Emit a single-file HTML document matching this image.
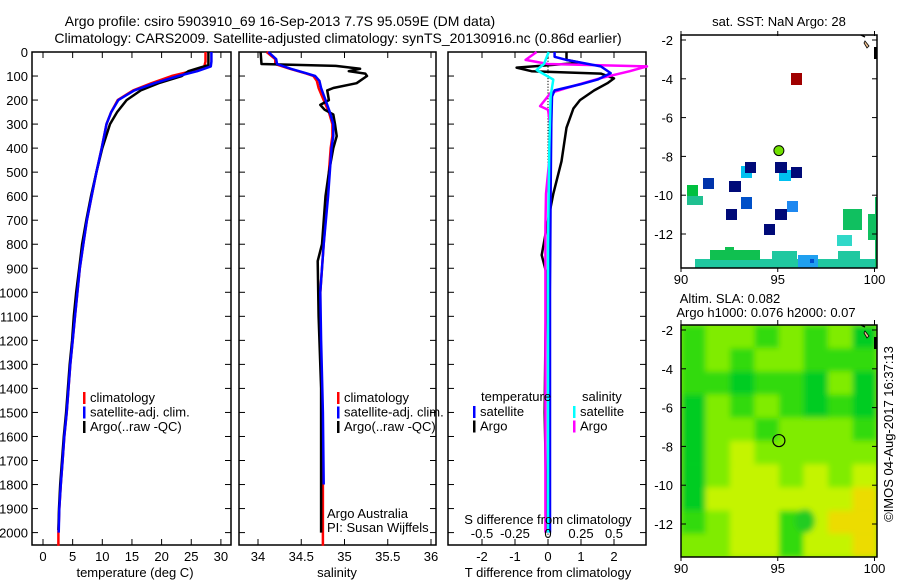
<!DOCTYPE html>
<html><head><meta charset="utf-8">
<style>
html,body{margin:0;padding:0;background:#fff;}
svg{display:block;font-family:"Liberation Sans",sans-serif;}
text{fill:#000;}
</style></head>
<body>
<svg id="fig" width="900" height="580" viewBox="0 0 900 580" xmlns="http://www.w3.org/2000/svg">
<text x="280" y="26" font-size="14" text-anchor="middle">Argo profile: csiro 5903910_69 16-Sep-2013 7.7S 95.059E (DM data)</text>
<text x="338" y="43" font-size="14" text-anchor="middle">Climatology: CARS2009. Satellite-adjusted climatology: synTS_20130916.nc (0.86d earlier)</text>
<g id="p1"></g>
<g id="p2"></g>
<g id="p3"></g>
<g id="m1"></g>
<g id="m2"></g>
<text transform="translate(893,434) rotate(-90)" font-size="13" text-anchor="middle">©IMOS 04-Aug-2017 16:37:13</text>
</svg>
<script>
const NS="http://www.w3.org/2000/svg";
// ---- data ----
const tDepthClim=[0,40,60,80,100,130,160,200,250,300,400,500,600,700,800,900,1000,1100,1200,1300,1400,1500,1600,1700,1800,1900,2000,2055];
const tClim=[27.4,27.4,27.2,25,21.7,18.3,15.2,12.6,11.5,10.7,9.9,9.0,8.2,7.4,6.8,6.2,5.8,5.4,5.0,4.6,4.3,4.0,3.6,3.3,3.0,2.75,2.6,2.6];
const tSat=[28.4,28.4,28.3,26,22.8,18.8,15.4,12.7,11.5,10.7,9.9,9.0,8.2,7.4,6.8,6.2,5.8,5.4,5.0,4.6,4.3,4.0,3.6,3.3,3.0,2.75,2.65,2.65];
const tDepthArgo=[0,55,65,80,100,130,160,200,250,300,400,500,600,700,800,900,1000,1100,1200,1300,1400,1500,1600,1700,1800,1900,1990];
const tArgo=[27.9,27.9,26.5,24.5,23.4,19.5,16.5,14.1,12.5,11.3,10.0,9.0,8.1,7.3,6.6,6.1,5.6,5.2,4.9,4.5,4.2,3.9,3.5,3.2,2.9,2.7,2.6];
const sDepthClim=[0,30,50,70,90,100,120,150,200,250,300,350,400,500,600,800,1000,1200,1500,1800,2055];
const sClim=[34.10,34.2,34.2,34.37,34.56,34.64,34.68,34.70,34.76,34.82,34.86,34.86,34.84,34.82,34.80,34.76,34.72,34.72,34.74,34.75,34.75];
const sSat=[34.12,34.21,34.22,34.38,34.57,34.66,34.71,34.73,34.78,34.83,34.87,34.87,34.85,34.83,34.81,34.76,34.72,34.73,34.75,34.76,34.76];
const sDepthArgo=[0,50,58,65,70,80,90,100,130,150,160,200,220,240,260,300,350,400,500,600,800,870,1100,1400,1700,2000];
const sArgo=[34.03,34.04,34.9,35.07,35.18,35.05,35.24,35.26,35.14,34.87,34.80,34.82,34.72,34.77,34.87,34.89,34.91,34.87,34.82,34.78,34.74,34.69,34.70,34.73,34.73,34.73];
const dDepthT=[0,20,33,60,88,115,135,160,185,300,600,1000,1500,2000];
const dTsat=[0.2,0.2,0.56,1.6,1.9,1.5,0.97,0.2,0.12,0.1,0.08,0.06,0.06,0.06];
const dDepthTA=[0,33,45,65,80,90,110,130,160,200,235,315,455,590,730,845,925,1200,1500,1800,2000];
const dTargo=[0.56,0.56,1.0,-0.95,-0.5,1.6,2.0,1.8,1.4,0.97,0.77,0.56,0.41,0.16,-0.04,-0.19,-0.04,-0.08,-0.1,-0.06,-0.04];
const dDepthS=[0,33,50,60,80,110,150,170,225,240,315,450,590,730,1000,1500,2000];
const dSargo=[-0.086,-0.17,0.0,0.75,0.62,0.39,0.14,0.02,-0.06,0.0,0.02,0.01,-0.015,-0.02,-0.02,-0.02,-0.02];
const dDepthSS=[0,50,75,115,185,400,800,1200,2000];
const dSsat=[0.005,-0.03,-0.086,0.04,0.02,0.01,0.0,0.0,0.0];
const depthTicks=[0,100,200,300,400,500,600,700,800,900,1000,1100,1200,1300,1400,1500,1600,1700,1800,1900,2000];
const tTicks=[0,5,10,15,20,25,30];
const sTicks=[34,34.5,35,35.5,36];
const dTTicks=[-2,-1,0,1,2];
const dSTicks=[-0.5,-0.25,0,0.25,0.5];
const latTicks=[-2,-4,-6,-8,-10,-12];
const lonTicks=[90,95,100];
// ---- scales ----
const Y0=52,YB=545;
const yD=d=>Y0+d*0.2403;
const xT=t=>43+t*5.93;
const xS=s=>258+(s-34)*86.5;
const xTd=t=>548+t*33;
const xSd=s=>548+s*132;
const mx=lon=>681+(lon-90)*19.35;
const my1=lat=>40+(-2-lat)*19.4;
const my2=lat=>330+(-2-lat)*19.4;
function mk(tag,attrs,parent){const e=document.createElementNS(NS,tag);for(const k in attrs)e.setAttribute(k,attrs[k]);parent.appendChild(e);return e;}
function frame(g,x1,x2,y1,y2){const r=mk('rect',{x:x1,y:y1,width:x2-x1,height:y2-y1,fill:'none',stroke:'#000','stroke-width':1.5},g);}
function line(g,xs,ys,fx,color,name,w){const pts=xs.map((v,i)=>fx(v).toFixed(1)+','+yD(ys[i]).toFixed(1)).join(' ');const p=mk('polyline',{points:pts,fill:'none',stroke:color,'stroke-width':w||2.5,'stroke-linejoin':'round'},g);}
function txt(g,x,y,s,opts){const t=mk('text',Object.assign({x:x,y:y,'font-size':13},opts||{}),g);t.textContent=s;return t;}
function depthAxis(g,x1,x2,labels){depthTicks.forEach(d=>{mk('line',{x1:x1,x2:x1+6,y1:yD(d),y2:yD(d),stroke:'#000'},g);mk('line',{x1:x2-6,x2:x2,y1:yD(d),y2:yD(d),stroke:'#000'},g);if(labels){const t=txt(g,28,yD(d)+5,String(d),{'text-anchor':'end'});}});}
function xAxis(g,ticks,fx,ylab){ticks.forEach(v=>{const x=fx(v);mk('line',{x1:x,x2:x,y1:YB,y2:YB-6,stroke:'#000'},g);mk('line',{x1:x,x2:x,y1:Y0,y2:Y0+6,stroke:'#000'},g);if(ylab){const t=txt(g,x,ylab,String(v),{'text-anchor':'middle'});}});}
function legend(g,x,y,items){items.forEach((it,i)=>{mk('rect',{x:x,y:y+i*14.5-10,width:2.5,height:12,fill:it[1]},g);const t=txt(g,x+7,y+i*14.5,it[0]);});}
// panel 1
const p1=document.getElementById('p1');
frame(p1,32,231,Y0,YB);depthAxis(p1,32,231,true);xAxis(p1,tTicks,xT,561);
line(p1,tClim,tDepthClim,xT,'#f00','temperature-climatology-line');
line(p1,tArgo,tDepthArgo,xT,'#000','temperature-argo-line');
line(p1,tSat,tDepthClim.slice(0,-1),xT,'#00f','temperature-satellite-line');
txt(p1,135,577,'temperature (deg C)',{'text-anchor':'middle'});
legend(p1,83,402,[['climatology','#f00'],['satellite-adj. clim.','#00f'],['Argo(..raw -QC)','#000']]);
// panel 2
const p2=document.getElementById('p2');
frame(p2,239,436,Y0,YB);depthAxis(p2,239,436,false);xAxis(p2,sTicks,xS,561);
line(p2,sClim,sDepthClim,xS,'#f00','salinity-climatology-line');
line(p2,sArgo,sDepthArgo,xS,'#000','salinity-argo-line');
line(p2,sSat,sDepthClim.slice(0,-1),xS,'#00f','salinity-satellite-line');
txt(p2,337,577,'salinity',{'text-anchor':'middle'});
legend(p2,337,402,[['climatology','#f00'],['satellite-adj. clim.','#00f'],['Argo(..raw -QC)','#000']]);
txt(p2,327,518,'Argo Australia');
txt(p2,327,532,'PI: Susan Wijffels');
// panel 3
const p3=document.getElementById('p3');
frame(p3,448,646,Y0,YB);depthAxis(p3,448,646,false);xAxis(p3,dTTicks,xTd,561);
for(let d=0;d<=2050;d+=12){mk('rect',{x:547.5,y:yD(d),width:1,height:1.2,fill:'#000'},p3);}
line(p3,dTargo,dDepthTA,xTd,'#000','t-diff-argo-line');
line(p3,dSargo,dDepthS,xSd,'#f0f','s-diff-argo-line');
line(p3,dTsat,dDepthT,xTd,'#00f','t-diff-satellite-line');
line(p3,dSsat,dDepthSS,xSd,'#0ff','s-diff-satellite-line');
dSTicks.forEach(v=>{const t=txt(p3,xSd(v),538,String(v),{'text-anchor':'middle'});});
txt(p3,548,524,'S difference from climatology',{'text-anchor':'middle'});
txt(p3,548,577,'T difference from climatology',{'text-anchor':'middle'});
txt(p3,481,401,'temperature');
txt(p3,582,401,'salinity');
legend(p3,473,416,[['satellite','#00f'],['Argo','#000']]);
legend(p3,573,416,[['satellite','#0ff'],['Argo','#f0f']]);
// maps
function mapAxes(g,my,yb){latTicks.forEach(l=>{const y=my(l);mk('line',{x1:681,x2:686,y1:y,y2:y,stroke:'#000'},g);mk('line',{x1:872,x2:877,y1:y,y2:y,stroke:'#000'},g);const t=txt(g,673,y+5,String(l),{'text-anchor':'end'});});
lonTicks.forEach(l=>{const x=mx(l);mk('line',{x1:x,x2:x,y1:yb,y2:yb+4,stroke:'#000'},g);mk('line',{x1:x,x2:x,y1:yb-232,y2:yb-237,stroke:'#000'},g);const t=txt(g,x,yb+16,String(l),{'text-anchor':'middle'});});}
function island(g,oy){mk('path',{d:`M865 ${oy+6} L869 ${oy+11} L867 ${oy+13} L864 ${oy+8} Z`,fill:'#f0c090',stroke:'#000','stroke-width':0.8},g);mk('rect',{x:874,y:oy+12,width:3,height:12,fill:'#000'},g);mk('path',{d:`M861 ${oy} l4 2`,stroke:'#000','stroke-width':1.5},g);}
const m1=document.getElementById('m1');
txt(m1,779,26,'sat. SST: NaN Argo: 28',{'text-anchor':'middle'});
const cells=[[695,259,182,9,'#20c8a0'],[710,250,50,10,'#10c050'],[725,247,9,5,'#10c050'],[772,251,25,9,'#20c8a0'],[798,255,20,13,'#20a0f0'],[810,259,4,4,'#0050d0'],[838,251,22,9,'#20c8a0'],[843,209,19,21,'#10c060'],[868,214,9,26,'#10c060'],[875,197,2,71,'#10c060'],[837,235,15,11,'#30d8c8'],
[791,73,11,12,'#a00000'],[741,166,11,12,'#00c0f0'],[779,170,12,11,'#00c0f0'],[745,162,11,11,'#000a78'],[775,162,12,11,'#000a78'],[791,167,11,11,'#000a78'],[729,181,12,11,'#000a78'],[726,209,11,11,'#000a78'],[775,209,12,11,'#000a78'],[764,224,11,11,'#000a78'],
[703,178,11,11,'#0033aa'],[741,197,11,12,'#0050c8'],[787,201,11,11,'#1e88f0'],[687,185,11,11,'#00c040'],[687,196,16,9,'#20c090']];
cells.forEach(c=>{const r=mk('rect',{x:c[0],y:c[1],width:c[2],height:c[3],fill:c[4]},m1);});
island(m1,35);
const c1=mk('circle',{cx:mx(95.059),cy:my1(-7.7),r:5,fill:'#70e000',stroke:'#000','stroke-width':1},m1);
frame(m1,681,877,35,268);mapAxes(m1,my1,268);
const m2=document.getElementById('m2');
txt(m2,730,303,'Altim. SLA: 0.082',{'text-anchor':'middle'});
txt(m2,766,317,'Argo h1000: 0.076 h2000: 0.07',{'text-anchor':'middle'});
const pal={D:'#00cc20',G:'#30da08',L:'#80ec00',Y:'#c4f400',O:'#ecdc00'};
const grid=['GLLGLGLD','GLGLLGGG','GGDGGDLD','DLGLGDGD','DLLGLLLG','DLYLLLLL','DLYYLYLY','DYYYYYYO','GLYYGYOO','LLYYGYYO'];
const defs=mk('defs',{},m2);const cp=mk('clipPath',{id:'c2'},defs);mk('rect',{x:681,y:325,width:196,height:232},cp);
const fl=mk('filter',{id:'bl',x:'-10%',y:'-10%',width:'120%',height:'120%'},defs);mk('feGaussianBlur',{stdDeviation:3},fl);
const gg=mk('g',{'clip-path':'url(#c2)'},m2);const gb=mk('g',{filter:'url(#bl)'},gg);
mk('rect',{x:660,y:300,width:240,height:280,fill:'#80ec00'},gb);
grid.forEach((row,r)=>{for(let c=0;c<8;c++){const cell=mk('rect',{x:681+c*24.5,y:325+r*23.2,width:24.6,height:23.3,fill:pal[row[c]]},gb);}});
mk('ellipse',{cx:805,cy:521,rx:10,ry:12,fill:'#20cc20'},gb);
island(m2,325);
const c2=mk('circle',{cx:mx(95.059),cy:my2(-7.7),r:6,fill:'none',stroke:'#000','stroke-width':1.2},m2);
frame(m2,681,877,325,557);mapAxes(m2,my2,557);
</script>
</body></html>
